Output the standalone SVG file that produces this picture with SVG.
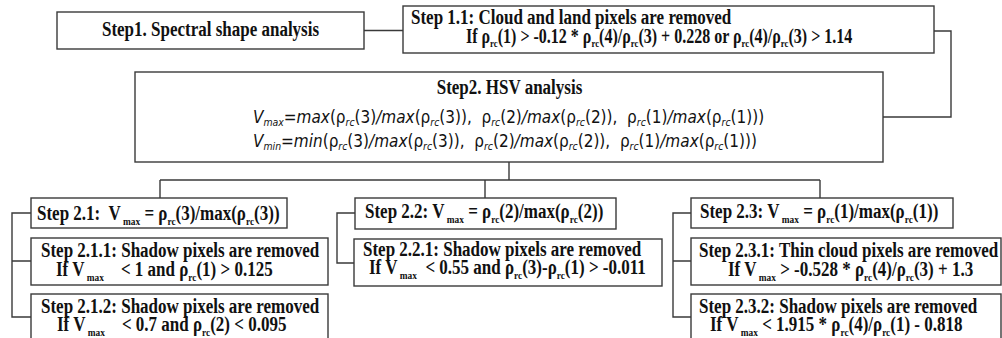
<svg xmlns="http://www.w3.org/2000/svg" width="1002" height="338" viewBox="0 0 1002 338">
<style>
.box{fill:#fff;stroke:#3a3a3a;stroke-width:1.4}
.ln{fill:none;stroke:#3a3a3a;stroke-width:1.4}
.b{font-family:"Liberation Serif","Times New Roman",serif;font-weight:bold;font-size:20px;fill:#111}
.s{font-size:11px}
.m{font-family:"DejaVu Sans","Liberation Sans",sans-serif;font-size:18px;fill:#111}
.i{font-style:italic}
.ms{font-size:11px;font-style:italic}
</style>
<rect width="1002" height="338" fill="#fff"/>
<g id="connectors">
<path class="ln" d="M364,30.5H403"/>
<path class="ln" d="M934,31H951V117H883"/>
<path class="ln" d="M509,162V180M160,180H820M160,180V198M485,180V198M820,180V198"/>
<path class="ln" d="M31,213H12V317H31M12,261H31"/>
<path class="ln" d="M355,213H337V263H354"/>
<path class="ln" d="M691,213H673V317H691M673,261H691"/>
</g>
<g id="step1">
<rect class="box" x="57" y="12" width="307" height="37"/>
<text class="b" transform="matrix(0.85 0 0 1 210.5 36)" text-anchor="middle">Step1. Spectral shape analysis</text>
</g>
<g id="step1_1">
<rect class="box" x="403" y="6" width="531" height="47"/>
<text class="b" transform="matrix(0.85 0 0 1 411 24)">Step 1.1: Cloud and land pixels are removed</text>
<text class="b" transform="matrix(0.8 0 0 1 466 43)">If ρ<tspan class="s" dy="4">rc</tspan><tspan dy="-4">(1) &gt; -0.12 * ρ</tspan><tspan class="s" dy="4">rc</tspan><tspan dy="-4">(4)/ρ</tspan><tspan class="s" dy="4">rc</tspan><tspan dy="-4">(3) + 0.228 or ρ</tspan><tspan class="s" dy="4">rc</tspan><tspan dy="-4">(4)/ρ</tspan><tspan class="s" dy="4">rc</tspan><tspan dy="-4">(3) &gt; 1.14</tspan></text>
</g>
<g id="step2">
<rect class="box" x="135" y="72" width="748" height="90"/>
<text class="b" transform="matrix(0.85 0 0 1 509.5 94)" text-anchor="middle">Step2. HSV analysis</text>
<text class="m" transform="matrix(0.85 0 0 1 253 123)" xml:space="preserve"><tspan class="i">V</tspan><tspan class="ms" dy="3">max</tspan><tspan dy="-3">=</tspan><tspan class="i">max</tspan><tspan>(ρ</tspan><tspan class="ms" dy="3">rc</tspan><tspan dy="-3">(3)</tspan><tspan class="i">/max</tspan><tspan>(ρ</tspan><tspan class="ms" dy="3">rc</tspan><tspan dy="-3">(3)),  ρ</tspan><tspan class="ms" dy="3">rc</tspan><tspan dy="-3">(2)</tspan><tspan class="i">/max</tspan><tspan>(ρ</tspan><tspan class="ms" dy="3">rc</tspan><tspan dy="-3">(2)),  ρ</tspan><tspan class="ms" dy="3">rc</tspan><tspan dy="-3">(1)</tspan><tspan class="i">/max</tspan><tspan>(ρ</tspan><tspan class="ms" dy="3">rc</tspan><tspan dy="-3">(1)))</tspan></text>
<text class="m" transform="matrix(0.85 0 0 1 253 147)" xml:space="preserve"><tspan class="i">V</tspan><tspan class="ms" dy="3">min</tspan><tspan dy="-3">=</tspan><tspan class="i">min</tspan><tspan>(ρ</tspan><tspan class="ms" dy="3">rc</tspan><tspan dy="-3">(3)</tspan><tspan class="i">/max</tspan><tspan>(ρ</tspan><tspan class="ms" dy="3">rc</tspan><tspan dy="-3">(3)),  ρ</tspan><tspan class="ms" dy="3">rc</tspan><tspan dy="-3">(2)</tspan><tspan class="i">/max</tspan><tspan>(ρ</tspan><tspan class="ms" dy="3">rc</tspan><tspan dy="-3">(2)),  ρ</tspan><tspan class="ms" dy="3">rc</tspan><tspan dy="-3">(1)</tspan><tspan class="i">/max</tspan><tspan>(ρ</tspan><tspan class="ms" dy="3">rc</tspan><tspan dy="-3">(1)))</tspan></text>
</g>
<g id="step2_1">
<rect class="box" x="31" y="198" width="256" height="30"/>
<text class="b" transform="matrix(0.85 0 0 1 37 220)" xml:space="preserve">Step 2.1:  V<tspan class="s" dy="5"> max</tspan><tspan dy="-5"> = ρ</tspan><tspan class="s" dy="5">rc</tspan><tspan dy="-5">(3)/max(ρ</tspan><tspan class="s" dy="5">rc</tspan><tspan dy="-5">(3))</tspan></text>
</g>
<g id="step2_1_1">
<rect class="box" x="31" y="238" width="297" height="47"/>
<text class="b" transform="matrix(0.85 0 0 1 41 257)">Step 2.1.1: Shadow pixels are removed</text>
<text class="b" transform="matrix(0.85 0 0 1 56 276)" xml:space="preserve">If V<tspan class="s" dy="5"> max</tspan><tspan dy="-5">    &lt; 1 and ρ</tspan><tspan class="s" dy="5">rc</tspan><tspan dy="-5">(1) &gt; 0.125</tspan></text>
</g>
<g id="step2_1_2">
<rect class="box" x="31" y="294" width="297" height="60"/>
<text class="b" transform="matrix(0.85 0 0 1 41 313)">Step 2.1.2: Shadow pixels are removed</text>
<text class="b" transform="matrix(0.85 0 0 1 57 331)" xml:space="preserve">If V<tspan class="s" dy="5"> max</tspan><tspan dy="-5">    &lt; 0.7 and ρ</tspan><tspan class="s" dy="5">rc</tspan><tspan dy="-5">(2) &lt; 0.095</tspan></text>
</g>
<g id="step2_2">
<rect class="box" x="355" y="198" width="261" height="31"/>
<text class="b" transform="matrix(0.85 0 0 1 365 218)">Step 2.2: V<tspan class="s" dy="5"> max</tspan><tspan dy="-5"> = ρ</tspan><tspan class="s" dy="5">rc</tspan><tspan dy="-5">(2)/max(ρ</tspan><tspan class="s" dy="5">rc</tspan><tspan dy="-5">(2))</tspan></text>
</g>
<g id="step2_2_1">
<rect class="box" x="354" y="239" width="308" height="47"/>
<text class="b" transform="matrix(0.85 0 0 1 363 256)">Step 2.2.1: Shadow pixels are removed</text>
<text class="b" transform="matrix(0.85 0 0 1 369 274)" xml:space="preserve">If V<tspan class="s" dy="5"> max</tspan><tspan dy="-5">  &lt; 0.55 and ρ</tspan><tspan class="s" dy="5">rc</tspan><tspan dy="-5">(3)-ρ</tspan><tspan class="s" dy="5">rc</tspan><tspan dy="-5">(1) &gt; -0.011</tspan></text>
</g>
<g id="step2_3">
<rect class="box" x="691" y="198" width="262" height="30"/>
<text class="b" transform="matrix(0.85 0 0 1 700 218)">Step 2.3: V<tspan class="s" dy="5"> max</tspan><tspan dy="-5"> = ρ</tspan><tspan class="s" dy="5">rc</tspan><tspan dy="-5">(1)/max(ρ</tspan><tspan class="s" dy="5">rc</tspan><tspan dy="-5">(1))</tspan></text>
</g>
<g id="step2_3_1">
<rect class="box" x="691" y="238" width="310" height="47"/>
<text class="b" transform="matrix(0.85 0 0 1 699 257)">Step 2.3.1: Thin cloud pixels are removed</text>
<text class="b" transform="matrix(0.85 0 0 1 728 276)">If V<tspan class="s" dy="5"> max</tspan><tspan dy="-5"> &gt; -0.528 * ρ</tspan><tspan class="s" dy="5">rc</tspan><tspan dy="-5">(4)/ρ</tspan><tspan class="s" dy="5">rc</tspan><tspan dy="-5">(3) + 1.3</tspan></text>
</g>
<g id="step2_3_2">
<rect class="box" x="691" y="294" width="310" height="60"/>
<text class="b" transform="matrix(0.85 0 0 1 699 313)">Step 2.3.2: Shadow pixels are removed</text>
<text class="b" transform="matrix(0.85 0 0 1 710 331)">If V<tspan class="s" dy="5"> max</tspan><tspan dy="-5"> &lt; 1.915 * ρ</tspan><tspan class="s" dy="5">rc</tspan><tspan dy="-5">(4)/ρ</tspan><tspan class="s" dy="5">rc</tspan><tspan dy="-5">(1) - 0.818</tspan></text>
</g>
</svg>
